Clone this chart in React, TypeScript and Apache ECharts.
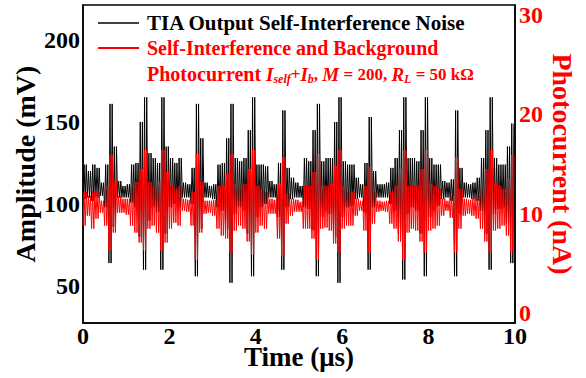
import React, { useEffect, useRef } from "react";
import * as echarts from "echarts";

const FONT = '"Liberation Serif", "Times New Roman", serif';

// time axis (µs)
const xTicks = [0, 2, 4, 6, 8, 10];
const binStep = 0.1; // µs per envelope bin
const swingsPerBin = 2; // oscillation cycles drawn inside each bin

// TIA output self-interference noise (mV) – upper / lower extremes per 0.1 µs bin
const blackHi = [
  124, 120, 124, 122, 113, 124, 161, 135, 114, 111,
  112, 124, 125, 150, 165, 131, 128, 125, 165, 135,
  128, 125, 128, 113, 112, 122, 161, 140, 113, 111,
  112, 124, 125, 140, 161, 128, 126, 128, 145, 165,
  124, 124, 123, 114, 112, 125, 157, 122, 116, 113,
  111, 128, 126, 145, 161, 126, 128, 128, 150, 165,
  126, 124, 124, 116, 112, 125, 153, 120, 112, 112,
  113, 122, 128, 145, 165, 128, 128, 126, 145, 165,
  128, 124, 124, 114, 113, 115, 157, 122, 113, 112,
  113, 116, 128, 145, 165, 128, 124, 124, 135, 149,
];
const blackLo = [
  103, 104, 102, 104, 105, 98, 64, 86, 104, 104,
  104, 101, 98, 80, 60, 90, 98, 95, 60, 82,
  98, 100, 98, 104, 104, 100, 56, 85, 104, 104,
  103, 98, 96, 85, 52, 94, 98, 96, 82, 56,
  92, 98, 100, 104, 104, 92, 60, 98, 103, 104,
  104, 98, 97, 84, 56, 92, 96, 94, 80, 52,
  92, 98, 99, 103, 104, 95, 60, 98, 104, 104,
  104, 100, 96, 82, 54, 94, 98, 96, 82, 56,
  92, 96, 99, 103, 104, 102, 56, 94, 104, 104,
  103, 102, 96, 82, 60, 94, 97, 98, 88, 64,
];

// Self-interference and background photocurrent (nA)
const redHi = [
  12.2, 11.8, 12.3, 12.2, 11.3, 12.8, 15.9, 13.3, 11.8, 11.5,
  11.5, 12.8, 13.2, 14.5, 16.4, 13.2, 12.8, 13.2, 16.4, 14.2,
  12.8, 12.5, 12.8, 11.5, 11.4, 12.2, 16.0, 13.2, 11.3, 11.3,
  11.4, 12.8, 12.8, 14.0, 16.0, 13.0, 12.8, 13.0, 14.5, 16.4,
  12.8, 12.5, 12.2, 11.5, 11.4, 13.0, 15.7, 12.0, 11.5, 11.4,
  11.2, 12.8, 12.8, 14.2, 16.0, 12.8, 12.8, 13.0, 14.8, 16.4,
  12.8, 12.2, 12.2, 11.5, 11.3, 12.8, 14.7, 12.2, 11.3, 11.2,
  11.3, 12.2, 12.8, 14.5, 16.4, 12.8, 12.8, 12.8, 14.5, 16.4,
  13.0, 12.8, 12.5, 11.5, 11.3, 11.8, 15.7, 12.5, 11.5, 11.4,
  11.5, 11.8, 12.8, 14.5, 16.4, 13.0, 12.8, 12.5, 13.5, 15.9,
];
const redLo = [
  8.8, 9.8, 8.5, 9.5, 10.1, 8.8, 6.3, 8.1, 10.1, 10.1,
  9.9, 8.8, 8.1, 7.1, 6.3, 8.5, 8.8, 8.1, 6.3, 7.1,
  8.5, 9.1, 8.8, 10.3, 10.2, 8.8, 5.4, 8.1, 10.0, 10.1,
  9.8, 8.5, 7.8, 7.5, 6.1, 8.3, 8.8, 8.5, 7.2, 5.9,
  8.1, 8.8, 8.5, 10.0, 10.0, 7.5, 5.7, 9.0, 9.8, 10.2,
  10.2, 8.5, 8.5, 7.5, 5.4, 8.5, 8.6, 8.3, 7.0, 6.1,
  8.5, 8.8, 8.8, 9.8, 10.3, 8.3, 6.1, 9.0, 10.2, 10.3,
  10.2, 9.0, 8.5, 7.2, 5.4, 8.1, 8.5, 8.3, 7.2, 6.1,
  8.3, 8.5, 8.8, 9.8, 10.3, 9.6, 6.1, 8.5, 9.8, 10.0,
  9.8, 9.5, 8.5, 7.2, 6.1, 8.3, 8.5, 8.8, 7.8, 6.1,
];

const leftTicks = [50, 100, 150, 200];
const rightTicks = [0, 10, 20, 30];

// each bin is drawn as a few swings between its measured low and high extremes
function zigzag(hi: number[], lo: number[]) {
  const pts: number[][] = [];
  const sub = binStep / (2 * swingsPerBin);
  for (let k = 0; k < hi.length; k++) {
    for (let j = 0; j < swingsPerBin; j++) {
      const t0 = k * binStep + 2 * j * sub;
      pts.push([+t0.toFixed(4), lo[k]]);
      pts.push([+(t0 + sub).toFixed(4), hi[k]]);
    }
  }
  return pts;
}

export default function App() {
  const ref = useRef<HTMLDivElement>(null);
  useEffect(() => {
    const chart = echarts.init(ref.current!, null, { renderer: "svg" });
    const labelBase = { fontSize: 24, fontWeight: "bold" as const, fontFamily: FONT };
    chart.setOption({
      animation: false,
      backgroundColor: "#fff",
      grid: {
        left: 83,
        right: 71,
        top: 5,
        bottom: 55,
        show: true,
        borderColor: "#000",
        borderWidth: 1.5,
        backgroundColor: "transparent",
        containLabel: false,
        outerBoundsMode: "none",
      },
      xAxis: {
        type: "value",
        min: xTicks[0],
        max: xTicks[xTicks.length - 1],
        interval: xTicks[1] - xTicks[0],
        axisLine: { show: true, onZero: false, lineStyle: { color: "#000", width: 1.5 } },
        axisTick: { show: false },
        splitLine: { show: false },
        axisLabel: { ...labelBase, color: "#000", margin: 4, lineHeight: 17 },
        name: "Time (μs)",
        nameLocation: "middle",
        nameGap: 24,
        nameMoveOverlap: false,
        nameTextStyle: { fontSize: 27, fontWeight: "bold", fontFamily: FONT, color: "#000", lineHeight: 20 },
      },
      yAxis: [
        {
          type: "value",
          position: "left",
          min: 27.5,
          max: 221.25,
          interval: 2.5,
          axisLine: { show: true, onZero: false, lineStyle: { color: "#000", width: 1.5 } },
          axisTick: { show: false },
          splitLine: { show: false },
          axisLabel: {
            ...labelBase,
            color: "#000",
            margin: 3,
            formatter: (v: number) => (leftTicks.includes(v) ? String(v) : ""),
          },
          name: "Amplitude (mV)",
          nameLocation: "middle",
          nameGap: 44,
          nameMoveOverlap: false,
          nameTextStyle: { fontSize: 28, fontWeight: "bold", fontFamily: FONT, color: "#000" },
        },
        {
          type: "value",
          position: "right",
          min: -1,
          max: 31,
          interval: 1,
          axisLine: { show: true, onZero: false, lineStyle: { color: "#000", width: 1.5 } },
          axisTick: { show: false },
          splitLine: { show: false },
          axisLabel: {
            ...labelBase,
            color: "#ff0000",
            margin: 4,
            formatter: (v: number) => (rightTicks.includes(v) ? String(v) : ""),
          },
          name: "Photocurrent (nA)",
          nameLocation: "middle",
          nameRotate: -90,
          nameGap: 33,
          nameMoveOverlap: false,
          nameTextStyle: { fontSize: 28, fontWeight: "bold", fontFamily: FONT, color: "#ff0000" },
        },
      ],
      series: [
        {
          type: "line",
          name: "TIA Output Self-Interference Noise",
          yAxisIndex: 0,
          data: zigzag(blackHi, blackLo),
          symbol: "none",
          lineStyle: { color: "#000", width: 1 },
        },
        {
          type: "line",
          name: "Self-Interference and Background Photocurrent",
          yAxisIndex: 1,
          data: zigzag(redHi, redLo),
          symbol: "none",
          lineStyle: { color: "#ff0000", width: 1 },
        },
      ],
      graphic: [
        { type: "line", shape: { x1: 98, y1: 23, x2: 139, y2: 23 }, style: { stroke: "#000", lineWidth: 1.5 } },
        {
          type: "text",
          x: 147,
          y: 23,
          style: {
            text: "TIA Output Self-Interference Noise",
            fill: "#000",
            fontSize: 21,
            fontWeight: "bold",
            fontFamily: FONT,
            verticalAlign: "middle",
          },
        },
        { type: "line", shape: { x1: 98, y1: 48, x2: 139, y2: 48 }, style: { stroke: "#ff0000", lineWidth: 2 } },
        {
          type: "text",
          x: 147,
          y: 48,
          style: {
            text: "Self-Interference and Background",
            fill: "#ff0000",
            fontSize: 20,
            fontWeight: "bold",
            fontFamily: FONT,
            verticalAlign: "middle",
          },
        },
        {
          type: "text",
          x: 147,
          y: 74,
          style: {
            text: "{n|Photocurrent }{i|I}{s|self}{m|+}{i|I}{s|b}{m|, }{i|M}{m| = 200, }{i|R}{s|L}{m| = 50 kΩ}",
            fill: "#ff0000",
            fontSize: 20,
            fontWeight: "bold",
            fontFamily: FONT,
            verticalAlign: "middle",
            rich: {
              n: { fill: "#ff0000", fontSize: 20, fontWeight: "bold", fontFamily: FONT, lineHeight: 22 },
              m: { fill: "#ff0000", fontSize: 17, fontWeight: "bold", fontFamily: FONT, lineHeight: 22 },
              i: { fill: "#ff0000", fontSize: 19, fontWeight: "bold", fontStyle: "italic", fontFamily: FONT, lineHeight: 22 },
              s: {
                fill: "#ff0000",
                fontSize: 12,
                fontWeight: "bold",
                fontStyle: "italic",
                fontFamily: FONT,
                verticalAlign: "bottom",
                lineHeight: 22,
              },
            },
          },
        },
      ],
    });
    return () => chart.dispose();
  }, []);
  return (
    <div
      ref={ref}
      style={{ position: "absolute", left: 0, top: 0, width: 586, height: 378 }}
    />
  );
}
